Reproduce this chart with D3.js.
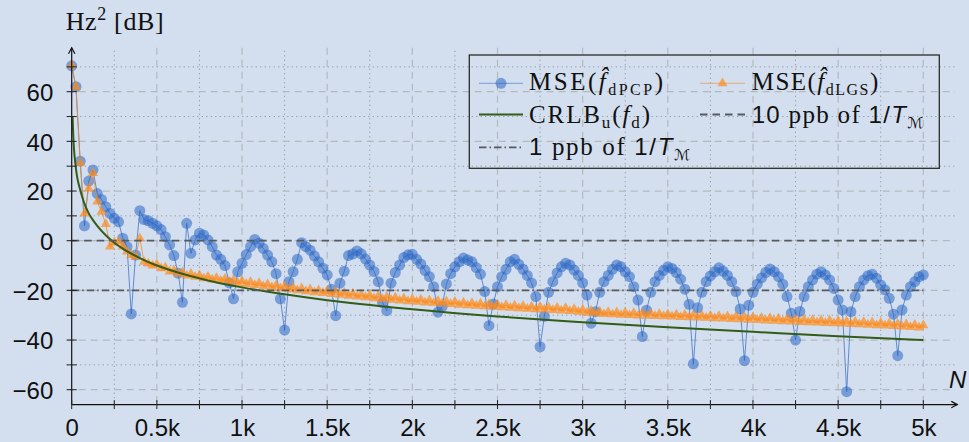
<!DOCTYPE html>
<html><head><meta charset="utf-8">
<script src="https://cdn.jsdelivr.net/npm/d3@7"></script>
<style>
html,body{margin:0;padding:0;background:#d3dfee;}
svg{display:block}
</style></head><body>
<svg id="c" width="969" height="442"></svg>
<script>
// ---------- data ----------
const nValues = d3.range(0, 5001, 25);   // N sample grid (201 points)

const msePCP = [
 70.4, 62, 32, 6, 24, 28.5, 19, 16.6, 13.7, 11,
 9, 7.6, 1, -2.4, -29.5, -5.8, 12.1, 8.5, 8, 7,
 6, 4.5, 1.6, -1.7, -6, -13.1, -24.8, 7, -5.1, 0.3,
 3, 2.3, 0.3, -2.4, -5.8, -7.5, -10, -17, -23.4, -12.5,
 -9.1, -5.6, -2.4, 0.5, -1, -3.1, -5.8, -8.5, -13.3, -23.4,
 -36, -16.5, -12.5, -7.5, -0.8, -2.4, -3.8, -6.2, -8.5, -11.1,
 -13.8, -19.5, -30.2, -17.1, -12.3, -6, -5.4, -4.1, -5.3, -7.4,
 -9.8, -12.4, -16.5, -24.9, -28.2, -17.1, -12.8, -9.8, -6.8, -5.7,
 -5.5, -7.5, -9.4, -12, -14.5, -18.5, -28.8, -26.5, -17.4, -13.3,
 -10.5, -8.5, -7, -7.8, -8.5, -10.8, -13.5, -20.5, -34.2, -25.5,
 -18.5, -14.5, -11.5, -8.5, -7.5, -9.5, -11.5, -14, -17, -22.5,
 -42.7, -30.5, -20.8, -16.5, -13, -10.5, -9.1, -9.8, -11.8, -14,
 -17, -21.9, -33.2, -28.6, -20.8, -16.5, -14, -11.5, -9.8, -10.5,
 -12.5, -14.5, -18.5, -23.9, -38.6, -28, -20.8, -16.5, -14, -12,
 -10.5, -11.2, -12.8, -15.5, -19.5, -25.6, -49.6, -27, -20.8, -16.5,
 -14.2, -12.5, -10.9, -12.3, -14, -16.5, -20.5, -27.5, -48.3, -26,
 -20.8, -17.5, -15, -12.8, -11.4, -12.5, -14.5, -17.5, -22.5, -29.2,
 -40, -28.5, -22.5, -18.5, -15.8, -13.5, -12.5, -13.8, -15.8, -19.2,
 -23.9, -27.9, -60.8, -28.6, -22.5, -18.5, -15.8, -14.1, -13.5, -15.1,
 -17.8, -19.8, -23.2, -29.6, -46.3, -27.9, -21.9, -18.5, -16.5, -14.5,
 -13.8
];

const mseLGS = [
 70.6, 62, 31.4, 10.9, 21, 27.2, 15.7, 11.6, 6.7, -2.4,
 -0.8, -0.4, -2.4, -4.4, -5.8, -6.5, 1, -8.5, -9.2, -10.0,
 -9.5, -11.1, -10.8, -12.4, -12.0, -13.3, -12.7, -14.0, -13.3, -14.6,
 -13.9, -15.2, -14.5, -15.7, -15.0, -16.2, -15.4, -16.6, -15.9, -17.1,
 -16.3, -17.5, -16.7, -17.9, -17.1, -18.4, -17.6, -18.8, -18.0, -19.2,
 -18.4, -19.6, -18.8, -20.0, -19.2, -20.4, -19.6, -20.8, -20.0, -21.1,
 -20.3, -21.5, -20.6, -21.8, -21.0, -22.2, -21.3, -22.5, -21.7, -22.8,
 -22.0, -23.2, -22.3, -23.5, -22.6, -23.8, -22.9, -24.1, -23.2, -24.4,
 -23.5, -24.6, -23.7, -24.9, -24.0, -25.1, -24.2, -25.3, -24.4, -25.5,
 -24.6, -25.8, -24.9, -26.0, -25.1, -26.2, -25.3, -26.4, -25.5, -26.6,
 -25.7, -26.8, -25.9, -27.0, -26.1, -27.2, -26.3, -27.4, -26.5, -27.6,
 -26.6, -27.7, -26.8, -27.9, -27.0, -28.1, -27.1, -28.3, -27.5, -28.6,
 -27.8, -29.0, -28.2, -29.3, -28.5, -29.6, -28.7, -29.7, -28.8, -29.9,
 -28.9, -30.0, -29.1, -30.2, -29.2, -30.3, -29.3, -30.4, -29.5, -30.5,
 -29.6, -30.6, -29.7, -30.8, -29.8, -30.9, -29.9, -31.0, -30.1, -31.1,
 -30.2, -31.3, -30.3, -31.4, -30.5, -31.6, -30.6, -31.7, -30.8, -31.9,
 -30.9, -32.0, -31.1, -32.2, -31.2, -32.3, -31.4, -32.5, -31.5, -32.6,
 -31.7, -32.8, -31.8, -32.9, -32.0, -33.0, -32.1, -33.2, -32.2, -33.3,
 -32.4, -33.4, -32.5, -33.6, -32.6, -33.7, -32.8, -33.9, -33.0, -34.1,
 -33.1, -34.2, -33.3, -34.4, -33.5, -34.6, -33.7, -34.8, -33.9, -35.0,
 -34.1
];

const crlbN  = [5, 10, 15, 20, 30, 40, 50, 60, 80, 100, 125, 150, 200, 250, 300, 400, 500, 600, 800, 1000, 1250, 1500, 2000, 2500, 3000, 3500, 4000, 4500, 5000];
const crlbDb = [50, 41, 35.5, 32, 26.5, 23, 20.5, 18, 14, 11, 8.3, 6, 2.2, -0.8, -3.2, -7, -10, -12.3, -16, -18.8, -21.6, -24, -27.6, -30.5, -32.8, -34.9, -36.7, -38.5, -40];

const ppb10Level = 0;
const ppb1Level = -20;
const refRange = [0, 5000];

const xMajorTicks = [0, 500, 1000, 1500, 2000, 2500, 3000, 3500, 4000, 4500, 5000];
const xTickLabels = ["0", "0.5k", "1k", "1.5k", "2k", "2.5k", "3k", "3.5k", "4k", "4.5k", "5k"];
const xMinorTicks = [250, 750, 1250, 1750, 2250, 2750, 3250, 3750, 4250, 4750];
const yMajorTicks = [60, 40, 20, 0, -20, -40, -60];
const yMinorTicks = [70, 50, 30, 10, -10, -30, -50];

// ---------- layout ----------
const W = 969, H = 442;
const bg = "#d3dfee";
const svg = d3.select("#c");
svg.append("rect").attr("width", W).attr("height", H).attr("fill", bg);

const x = d3.scaleLinear().domain([0, 5000]).range([71.7, 923.3]);
const y = d3.scaleLinear().domain([-60, 60]).range([389.7, 91.7]);
const axisBottomVal = -66;       // where the x axis sits
const yAxisTopPx = 47.7;
const xAxisRightPx = 957.3;
const gridLeftPx = 66.7, gridRightPx = 955;

const axisY = y(axisBottomVal);

const gGrid = svg.append("g");
gGrid.selectAll(".vmin").data(xMinorTicks).join("line")
  .attr("x1", d => x(d)).attr("x2", d => x(d)).attr("y1", yAxisTopPx + 3).attr("y2", axisY)
  .attr("stroke", "#8f97a3").attr("stroke-width", 1).attr("stroke-dasharray", "1.2,3.3");
gGrid.selectAll(".vmaj").data(xMajorTicks.filter(d => d > 0)).join("line")
  .attr("x1", d => x(d)).attr("x2", d => x(d)).attr("y1", yAxisTopPx).attr("y2", axisY)
  .attr("stroke", "#b4b9c0").attr("stroke-width", 1.2).attr("stroke-dasharray", "7,5");
gGrid.selectAll(".hmin").data(yMinorTicks).join("line")
  .attr("x1", gridLeftPx).attr("x2", gridRightPx).attr("y1", d => y(d)).attr("y2", d => y(d))
  .attr("stroke", "#8f97a3").attr("stroke-width", 1).attr("stroke-dasharray", "1.2,3.3");
gGrid.selectAll(".hmaj").data(yMajorTicks).join("line")
  .attr("x1", gridLeftPx).attr("x2", gridRightPx).attr("y1", d => y(d)).attr("y2", d => y(d))
  .attr("stroke", "#b4b9c0").attr("stroke-width", 1.2).attr("stroke-dasharray", "7,5");

// ---------- series ----------
const blue = "#2a66c4", orange = "#ff8a1a", green = "#335c17";
const pcp = nValues.map((n, i) => [n, msePCP[i]]);
const lgs = nValues.map((n, i) => [n, mseLGS[i]]);
const line = d3.line().x(d => x(d[0])).y(d => y(d[1]));

svg.append("path").datum(pcp).attr("d", line).attr("fill", "none")
  .attr("stroke", "#3a70c8").attr("stroke-opacity", 0.85).attr("stroke-width", 0.9);
svg.append("g").selectAll("circle").data(pcp).join("circle")
  .attr("cx", d => x(d[0])).attr("cy", d => y(d[1])).attr("r", 5.5)
  .attr("fill", blue).attr("fill-opacity", 0.55);

svg.append("path").datum(lgs).attr("d", line).attr("fill", "none")
  .attr("stroke", "#f08a2a").attr("stroke-opacity", 0.85).attr("stroke-width", 0.9);
const tri = d3.symbol().type(d3.symbolTriangle).size(44);
svg.append("g").selectAll("path").data(lgs).join("path")
  .attr("transform", d => `translate(${x(d[0])},${y(d[1])})`).attr("d", tri)
  .attr("fill", orange).attr("fill-opacity", 0.7);

const crlb = crlbN.map((n, i) => [n, crlbDb[i]]);
svg.append("path").datum(crlb).attr("d", d3.line().x(d => x(d[0])).y(d => y(d[1])).curve(d3.curveMonotoneX))
  .attr("fill", "none").attr("stroke", green).attr("stroke-width", 2);

const refColor = "#555a60";
svg.append("line").attr("x1", x(refRange[0])).attr("x2", x(refRange[1]))
  .attr("y1", y(ppb10Level)).attr("y2", y(ppb10Level))
  .attr("stroke", refColor).attr("stroke-width", 1.8).attr("stroke-dasharray", "7.5,5");
svg.append("line").attr("x1", x(refRange[0])).attr("x2", x(refRange[1]))
  .attr("y1", y(ppb1Level)).attr("y2", y(ppb1Level))
  .attr("stroke", refColor).attr("stroke-width", 1.8).attr("stroke-dasharray", "7.5,3,1.5,3");

// ---------- axes ----------
const ax = svg.append("g");
ax.append("line").attr("x1", x(0)).attr("x2", xAxisRightPx).attr("y1", axisY).attr("y2", axisY)
  .attr("stroke", "#111").attr("stroke-width", 1.2);
ax.append("line").attr("x1", x(0)).attr("x2", x(0)).attr("y1", axisY).attr("y2", yAxisTopPx)
  .attr("stroke", "#111").attr("stroke-width", 1.2);
ax.append("path").attr("d", `M${xAxisRightPx - 6},${axisY - 3.2} L${xAxisRightPx},${axisY} L${xAxisRightPx - 6},${axisY + 3.2}`)
  .attr("fill", "none").attr("stroke", "#111").attr("stroke-width", 1.2);
ax.append("path").attr("d", `M${x(0) - 3.2},${yAxisTopPx + 6} L${x(0)},${yAxisTopPx} L${x(0) + 3.2},${yAxisTopPx + 6}`)
  .attr("fill", "none").attr("stroke", "#111").attr("stroke-width", 1.2);

ax.selectAll(".xt").data(xMajorTicks.concat(xMinorTicks)).join("line")
  .attr("x1", d => x(d)).attr("x2", d => x(d)).attr("y1", axisY - 4.5).attr("y2", axisY + 4.5)
  .attr("stroke", "#222").attr("stroke-width", 1);
ax.selectAll(".yt").data(yMajorTicks.concat(yMinorTicks)).join("line")
  .attr("x1", x(0) - 5).attr("x2", x(0) + 5).attr("y1", d => y(d)).attr("y2", d => y(d))
  .attr("stroke", "#222").attr("stroke-width", 1);

const xAxis = d3.axisBottom(x).tickValues(xMajorTicks).tickSize(0).tickPadding(0)
  .tickFormat((d, i) => xTickLabels[i]);
const gx = svg.append("g").attr("transform", `translate(0,${axisY})`).call(xAxis);
gx.select(".domain").remove();
gx.selectAll("text").attr("y", 0).attr("dy", 0).attr("transform", "translate(0,31.5)")
  .attr("font-family", "Liberation Sans, Arial, sans-serif").attr("font-size", 24).attr("fill", "#111");

const yAxis = d3.axisLeft(y).tickValues(yMajorTicks).tickSize(0).tickPadding(0)
  .tickFormat(d => d < 0 ? "\u2212" + Math.abs(d) : String(d));
const gy = svg.append("g").attr("transform", `translate(53.3,0)`).call(yAxis);
gy.select(".domain").remove();
gy.selectAll("text").attr("x", 0).attr("dy", "0.36em")
  .attr("font-family", "Liberation Sans, Arial, sans-serif").attr("font-size", 24).attr("fill", "#111");

const serif = "Liberation Serif, Times New Roman, serif";
const sans = "Liberation Sans, Arial, sans-serif";
function rich(parent, xx, yy, segs, len) {
  const t = parent.append("text").attr("x", xx).attr("y", yy).attr("fill", "#111");
  let cur = 0;
  segs.forEach(s => {
    const sp = t.append("tspan").text(s.t)
      .attr("font-family", s.ff || serif).attr("font-size", s.fs || 25);
    if (s.it) sp.attr("font-style", "italic");
    const target = s.dy || 0;
    if (target !== cur) { sp.attr("dy", target - cur); cur = target; }
  });
  if (len) t.attr("textLength", len).attr("lengthAdjust", "spacing");
  return t;
}
rich(svg, 65.7, 30, [{t: "Hz", fs: 26}, {t: "2", fs: 18, dy: -10}, {t: " [dB]", fs: 26}], 98);
svg.append("text").attr("x", 949).attr("y", 388).text("N")
  .attr("font-family", sans).attr("font-size", 24).attr("font-style", "italic").attr("fill", "#111");

// ---------- legend ----------
const lg = svg.append("g");
lg.append("rect").attr("x", 469.3).attr("y", 55).attr("width", 470).attr("height", 113.3)
  .attr("fill", "none").attr("stroke", "#2b2b2b").attr("stroke-width", 1.3);
const r1 = 83.3, r2 = 114.5, r3 = 147.3;
lg.append("line").attr("x1", 479).attr("x2", 523).attr("y1", r1).attr("y2", r1)
  .attr("stroke", "#3a70c8").attr("stroke-opacity", 0.6).attr("stroke-width", 1);
lg.append("circle").attr("cx", 501).attr("cy", r1).attr("r", 5.5).attr("fill", blue).attr("fill-opacity", 0.55);
lg.append("line").attr("x1", 700).attr("x2", 745).attr("y1", r1).attr("y2", r1)
  .attr("stroke", "#f08a2a").attr("stroke-opacity", 0.6).attr("stroke-width", 1);
lg.append("path").attr("transform", `translate(722.5,${r1})`).attr("d", tri).attr("fill", orange).attr("fill-opacity", 0.7);
lg.append("line").attr("x1", 479).attr("x2", 523).attr("y1", r2).attr("y2", r2)
  .attr("stroke", green).attr("stroke-width", 2);
lg.append("line").attr("x1", 700).attr("x2", 745).attr("y1", r2).attr("y2", r2)
  .attr("stroke", refColor).attr("stroke-width", 1.8).attr("stroke-dasharray", "7.5,5");
lg.append("line").attr("x1", 479).attr("x2", 523).attr("y1", r3).attr("y2", r3)
  .attr("stroke", refColor).attr("stroke-width", 1.8).attr("stroke-dasharray", "7.5,3,1.5,3");

const hatF = "f\u0302";
rich(lg, 529, 90, [{t: "MSE("}, {t: hatF, it: true}, {t: "dPCP", fs: 16, dy: 5}, {t: ")"}], 134);
rich(lg, 751.7, 90, [{t: "MSE("}, {t: hatF, it: true}, {t: "dLGS", fs: 16, dy: 5}, {t: ")"}], 126.6);
rich(lg, 529, 122.7, [{t: "CRLB"}, {t: "u", fs: 17, dy: 5}, {t: "("}, {t: "f", it: true}, {t: "d", fs: 17, dy: 5}, {t: ")"}], 121);
rich(lg, 751.7, 122.7, [{t: "10", ff: sans, fs: 24}, {t: " ppb of "}, {t: "1/", ff: sans, fs: 24},
  {t: "T", ff: sans, fs: 24, it: true}, {t: "\u2133", ff: "DejaVu Sans, sans-serif", fs: 15, dy: 5}], 171.6);
rich(lg, 529, 155, [{t: "1", ff: sans, fs: 24}, {t: " ppb of "}, {t: "1/", ff: sans, fs: 24},
  {t: "T", ff: sans, fs: 24, it: true}, {t: "\u2133", ff: "DejaVu Sans, sans-serif", fs: 15, dy: 5}], 161);
</script>
</body></html>
